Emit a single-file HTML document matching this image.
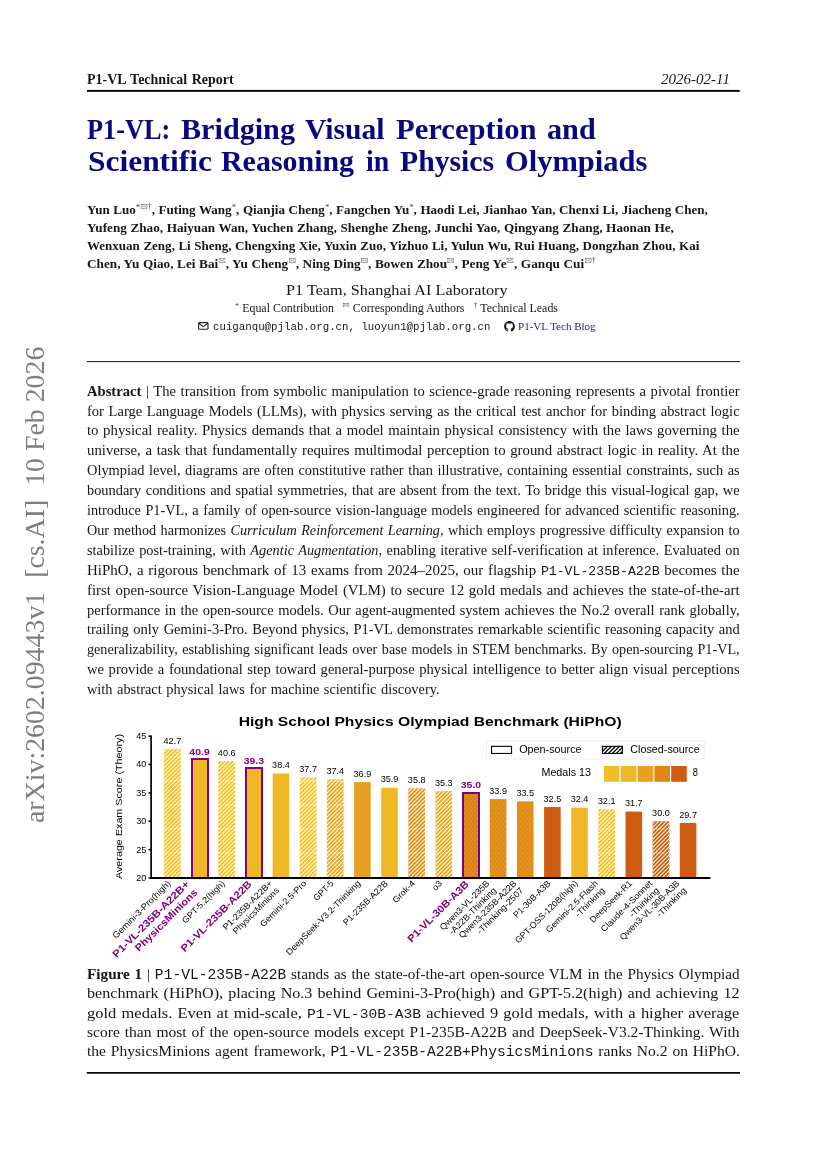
<!DOCTYPE html>
<html lang="en"><head><meta charset="utf-8"><title>P1-VL Technical Report</title>
<style>
html,body{margin:0;padding:0;background:#fff;}
body{width:827px;height:1170px;position:relative;overflow:hidden;font-family:"Liberation Serif", serif;color:#151515;will-change:transform;}
.l{position:absolute;white-space:nowrap;margin:0;padding:0;}
.l>span{display:inline-block;transform-origin:0 50%;white-space:nowrap;}
.b{font-weight:700;} .i{font-style:italic;}
.m{font-family:"Liberation Mono", monospace;}
.tt{font-family:"Liberation Mono", monospace;font-size:12.3px;line-height:0;letter-spacing:0;}
.tc{font-size:13.6px;}
.sp{position:relative;line-height:0;font-weight:400;display:inline-block;color:#444;}
.ev{position:relative;display:inline-block;margin:0 0.3px;}
.hr{position:absolute;background:#111;}
.chart{position:absolute;left:0;top:0;overflow:visible;}
.ic{position:absolute;}
#side{position:absolute;left:0;top:0;width:0;height:0;}
#side span{position:absolute;left:49.4px;top:822.8px;transform-origin:0 0;transform:rotate(-90deg) translateY(-100%);
  white-space:pre;font-size:27.85px;line-height:1;color:#7f7f7f;display:inline-block;}
</style></head><body>
<div class="l b" style="left:87.0px;top:69.91px;font-size:13.9px;line-height:20px;"><span id="t0" style="transform:scaleX(1.0072);word-spacing:1.000px;">P1-VL Technical Report</span></div>
<div class="l i" style="left:661.2px;top:69.71px;font-size:13.9px;line-height:20px;"><span id="t1" style="transform:scaleX(1.0816);">2026-02-11</span></div>
<div class="l b" style="left:87.2px;top:113.50px;font-size:28.6px;line-height:32px;color:#07077f;"><span id="t2" style="transform:scaleX(0.9190);">P1-VL:</span></div>
<div class="l b" style="left:181.1px;top:113.50px;font-size:28.6px;line-height:32px;color:#07077f;"><span id="t3" style="transform:scaleX(1.0549);">Bridging</span></div>
<div class="l b" style="left:304.7px;top:113.50px;font-size:28.6px;line-height:32px;color:#07077f;"><span id="t4" style="transform:scaleX(1.0363);">Visual</span></div>
<div class="l b" style="left:395.8px;top:113.50px;font-size:28.6px;line-height:32px;color:#07077f;"><span id="t5" style="transform:scaleX(1.0709);">Perception</span></div>
<div class="l b" style="left:547.1px;top:113.50px;font-size:28.6px;line-height:32px;color:#07077f;"><span id="t6" style="transform:scaleX(1.0562);">and</span></div>
<div class="l b" style="left:87.6px;top:145.70px;font-size:28.6px;line-height:32px;color:#07077f;"><span id="t7" style="transform:scaleX(1.0996);">Scientific</span></div>
<div class="l b" style="left:221.4px;top:145.70px;font-size:28.6px;line-height:32px;color:#07077f;"><span id="t8" style="transform:scaleX(1.0471);">Reasoning</span></div>
<div class="l b" style="left:365.8px;top:145.70px;font-size:28.6px;line-height:32px;color:#07077f;"><span id="t9" style="transform:scaleX(0.9724);">in</span></div>
<div class="l b" style="left:400.4px;top:145.70px;font-size:28.6px;line-height:32px;color:#07077f;"><span id="t10" style="transform:scaleX(1.0380);">Physics</span></div>
<div class="l b" style="left:505.1px;top:145.70px;font-size:28.6px;line-height:32px;color:#07077f;"><span id="t11" style="transform:scaleX(1.0660);">Olympiads</span></div>
<div class="l b" style="left:86.8px;top:199.90px;font-size:13.4px;line-height:20px;"><span id="t12" style="transform:scaleX(0.9762);word-spacing:0.300px;">Yun Luo<span class="sp" style="top:-3.6px;font-size:9.0px">*</span><svg class="ev" style="top:-5.0px" width="6.9" height="4.97" viewBox="0 0 10 7.2"><rect x="0.5" y="0.5" width="9" height="6.2" fill="none" stroke="#666" stroke-width="0.80"/><path d="M0.5 0.5 L5 4 L9.5 0.5 M0.5 6.7 L3.6 3 M9.5 6.7 L6.4 3" fill="none" stroke="#666" stroke-width="0.70"/></svg><span class="sp" style="top:-4.6px;font-size:8.6px">†</span>, Futing Wang<span class="sp" style="top:-3.6px;font-size:9.0px">*</span>, Qianjia Cheng<span class="sp" style="top:-3.6px;font-size:9.0px">*</span>, Fangchen Yu<span class="sp" style="top:-3.6px;font-size:9.0px">*</span>, Haodi Lei, Jianhao Yan, Chenxi Li, Jiacheng Chen,</span></div>
<div class="l b" style="left:86.8px;top:217.81px;font-size:13.4px;line-height:20px;"><span id="t13" style="transform:scaleX(0.9855);word-spacing:0.300px;">Yufeng Zhao, Haiyuan Wan, Yuchen Zhang, Shenghe Zheng, Junchi Yao, Qingyang Zhang, Haonan He,</span></div>
<div class="l b" style="left:86.8px;top:235.71px;font-size:13.4px;line-height:20px;"><span id="t14" style="transform:scaleX(0.9728);word-spacing:0.300px;">Wenxuan Zeng, Li Sheng, Chengxing Xie, Yuxin Zuo, Yizhuo Li, Yulun Wu, Rui Huang, Dongzhan Zhou, Kai</span></div>
<div class="l b" style="left:86.8px;top:253.60px;font-size:13.4px;line-height:20px;"><span id="t15" style="transform:scaleX(0.9895);word-spacing:0.300px;">Chen, Yu Qiao, Lei Bai<svg class="ev" style="top:-5.0px" width="6.9" height="4.97" viewBox="0 0 10 7.2"><rect x="0.5" y="0.5" width="9" height="6.2" fill="none" stroke="#666" stroke-width="0.80"/><path d="M0.5 0.5 L5 4 L9.5 0.5 M0.5 6.7 L3.6 3 M9.5 6.7 L6.4 3" fill="none" stroke="#666" stroke-width="0.70"/></svg>, Yu Cheng<svg class="ev" style="top:-5.0px" width="6.9" height="4.97" viewBox="0 0 10 7.2"><rect x="0.5" y="0.5" width="9" height="6.2" fill="none" stroke="#666" stroke-width="0.80"/><path d="M0.5 0.5 L5 4 L9.5 0.5 M0.5 6.7 L3.6 3 M9.5 6.7 L6.4 3" fill="none" stroke="#666" stroke-width="0.70"/></svg>, Ning Ding<svg class="ev" style="top:-5.0px" width="6.9" height="4.97" viewBox="0 0 10 7.2"><rect x="0.5" y="0.5" width="9" height="6.2" fill="none" stroke="#666" stroke-width="0.80"/><path d="M0.5 0.5 L5 4 L9.5 0.5 M0.5 6.7 L3.6 3 M9.5 6.7 L6.4 3" fill="none" stroke="#666" stroke-width="0.70"/></svg>, Bowen Zhou<svg class="ev" style="top:-5.0px" width="6.9" height="4.97" viewBox="0 0 10 7.2"><rect x="0.5" y="0.5" width="9" height="6.2" fill="none" stroke="#666" stroke-width="0.80"/><path d="M0.5 0.5 L5 4 L9.5 0.5 M0.5 6.7 L3.6 3 M9.5 6.7 L6.4 3" fill="none" stroke="#666" stroke-width="0.70"/></svg>, Peng Ye<svg class="ev" style="top:-5.0px" width="6.9" height="4.97" viewBox="0 0 10 7.2"><rect x="0.5" y="0.5" width="9" height="6.2" fill="none" stroke="#666" stroke-width="0.80"/><path d="M0.5 0.5 L5 4 L9.5 0.5 M0.5 6.7 L3.6 3 M9.5 6.7 L6.4 3" fill="none" stroke="#666" stroke-width="0.70"/></svg>, Ganqu Cui<svg class="ev" style="top:-5.0px" width="6.9" height="4.97" viewBox="0 0 10 7.2"><rect x="0.5" y="0.5" width="9" height="6.2" fill="none" stroke="#666" stroke-width="0.80"/><path d="M0.5 0.5 L5 4 L9.5 0.5 M0.5 6.7 L3.6 3 M9.5 6.7 L6.4 3" fill="none" stroke="#666" stroke-width="0.70"/></svg><span class="sp" style="top:-4.6px;font-size:8.6px">†</span></span></div>
<div class="l " style="left:285.9px;top:279.70px;font-size:15.4px;line-height:20px;"><span id="t16" style="transform:scaleX(1.0541);">P1 Team, Shanghai AI Laboratory</span></div>
<div class="l " style="left:235.1px;top:297.60px;font-size:11.5px;line-height:20px;"><span id="t17" style="transform:scaleX(1.0371);"><span class="sp" style="top:-3.0px;font-size:8.0px">*</span> Equal Contribution&nbsp;&nbsp; <svg class="ev" style="top:-4.2px" width="6.2" height="4.46" viewBox="0 0 10 7.2"><rect x="0.5" y="0.5" width="9" height="6.2" fill="none" stroke="#555" stroke-width="0.80"/><path d="M0.5 0.5 L5 4 L9.5 0.5 M0.5 6.7 L3.6 3 M9.5 6.7 L6.4 3" fill="none" stroke="#555" stroke-width="0.70"/></svg> Corresponding Authors&nbsp;&nbsp; <span class="sp" style="top:-3.6px;font-size:8.0px">†</span> Technical Leads</span></div>
<div class="l m" style="left:212.5px;top:316.51px;font-size:10.75px;line-height:20px;"><span id="t18" style="transform:scaleX(1.0003);">cuiganqu@pjlab.org.cn, luoyun1@pjlab.org.cn</span></div>
<div class="l " style="left:518.0px;top:315.51px;font-size:10.9px;line-height:20px;color:#1a1a9a;"><span id="t19" style="transform:scaleX(1.0119);">P1-VL Tech Blog</span></div>
<div class="l " style="left:86.9px;top:381.60px;font-size:13.9px;line-height:20px;"><span id="t20" style="transform:scaleX(1.0522);word-spacing:0.900px;"><b>Abstract</b> | The transition from symbolic manipulation to science-grade reasoning represents a pivotal frontier</span></div>
<div class="l " style="left:86.9px;top:401.51px;font-size:13.9px;line-height:20px;"><span id="t21" style="transform:scaleX(1.0471);word-spacing:0.900px;">for Large Language Models (LLMs), with physics serving as the critical test anchor for binding abstract logic</span></div>
<div class="l " style="left:86.9px;top:421.41px;font-size:13.9px;line-height:20px;"><span id="t22" style="transform:scaleX(1.0622);word-spacing:0.900px;">to physical reality. Physics demands that a model maintain physical consistency with the laws governing the</span></div>
<div class="l " style="left:86.9px;top:441.30px;font-size:13.9px;line-height:20px;"><span id="t23" style="transform:scaleX(1.0642);word-spacing:0.900px;">universe, a task that fundamentally requires multimodal perception to ground abstract logic in reality. At the</span></div>
<div class="l " style="left:86.9px;top:461.21px;font-size:13.9px;line-height:20px;"><span id="t24" style="transform:scaleX(1.0352);word-spacing:0.900px;">Olympiad level, diagrams are often constitutive rather than illustrative, containing essential constraints, such as</span></div>
<div class="l " style="left:86.9px;top:481.10px;font-size:13.9px;line-height:20px;"><span id="t25" style="transform:scaleX(1.0346);word-spacing:0.900px;">boundary conditions and spatial symmetries, that are absent from the text. To bridge this visual-logical gap, we</span></div>
<div class="l " style="left:86.9px;top:501.01px;font-size:13.9px;line-height:20px;"><span id="t26" style="transform:scaleX(1.0279);word-spacing:0.900px;">introduce P1-VL, a family of open-source vision-language models engineered for advanced scientific reasoning.</span></div>
<div class="l " style="left:86.9px;top:520.91px;font-size:13.9px;line-height:20px;"><span id="t27" style="transform:scaleX(1.0217);word-spacing:0.900px;">Our method harmonizes <i>Curriculum Reinforcement Learning</i>, which employs progressive difficulty expansion to</span></div>
<div class="l " style="left:86.9px;top:540.80px;font-size:13.9px;line-height:20px;"><span id="t28" style="transform:scaleX(1.0298);word-spacing:0.900px;">stabilize post-training, with <i>Agentic Augmentation</i>, enabling iterative self-verification at inference. Evaluated on</span></div>
<div class="l " style="left:86.9px;top:560.71px;font-size:13.9px;line-height:20px;"><span id="t29" style="transform:scaleX(1.0767);word-spacing:0.900px;">HiPhO, a rigorous benchmark of 13 exams from 2024–2025, our flagship <span class="tt" style="font-size:12.26px">P1-VL-235B-A22B</span> becomes the</span></div>
<div class="l " style="left:86.9px;top:580.60px;font-size:13.9px;line-height:20px;"><span id="t30" style="transform:scaleX(1.0691);word-spacing:0.900px;">first open-source Vision-Language Model (VLM) to secure 12 gold medals and achieves the state-of-the-art</span></div>
<div class="l " style="left:86.9px;top:600.51px;font-size:13.9px;line-height:20px;"><span id="t31" style="transform:scaleX(1.0431);word-spacing:0.900px;">performance in the open-source models. Our agent-augmented system achieves the No.2 overall rank globally,</span></div>
<div class="l " style="left:86.9px;top:620.41px;font-size:13.9px;line-height:20px;"><span id="t32" style="transform:scaleX(1.0422);word-spacing:0.900px;">trailing only Gemini-3-Pro. Beyond physics, P1-VL demonstrates remarkable scientific reasoning capacity and</span></div>
<div class="l " style="left:86.9px;top:640.30px;font-size:13.9px;line-height:20px;"><span id="t33" style="transform:scaleX(1.0199);word-spacing:0.900px;">generalizability, establishing significant leads over base models in STEM benchmarks. By open-sourcing P1-VL,</span></div>
<div class="l " style="left:86.9px;top:660.21px;font-size:13.9px;line-height:20px;"><span id="t34" style="transform:scaleX(1.0513);word-spacing:0.900px;">we provide a foundational step toward general-purpose physical intelligence to better align visual perceptions</span></div>
<div class="l " style="left:86.9px;top:680.10px;font-size:13.9px;line-height:20px;"><span id="t35" style="transform:scaleX(1.0338);word-spacing:0.900px;">with abstract physical laws for machine scientific discovery.</span></div>
<div class="l " style="left:86.9px;top:964.31px;font-size:15.4px;line-height:20px;"><span id="t36" style="transform:scaleX(0.9887);word-spacing:1.000px;"><b>Figure 1</b> | <span class="tt" style="font-size:14.78px">P1-VL-235B-A22B</span> stands as the state-of-the-art open-source VLM in the Physics Olympiad</span></div>
<div class="l " style="left:86.9px;top:983.41px;font-size:15.4px;line-height:20px;"><span id="t37" style="transform:scaleX(1.0464);word-spacing:1.000px;">benchmark (HiPhO), placing No.3 behind Gemini-3-Pro(high) and GPT-5.2(high) and achieving 12</span></div>
<div class="l " style="left:86.9px;top:1002.51px;font-size:15.4px;line-height:20px;"><span id="t38" style="transform:scaleX(1.0712);word-spacing:1.000px;">gold medals. Even at mid-scale, <span class="tt" style="font-size:13.64px">P1-VL-30B-A3B</span> achieved 9 gold medals, with a higher average</span></div>
<div class="l " style="left:86.9px;top:1021.61px;font-size:15.4px;line-height:20px;"><span id="t39" style="transform:scaleX(1.0107);word-spacing:1.000px;">score than most of the open-source models except P1-235B-A22B and DeepSeek-V3.2-Thinking. With</span></div>
<div class="l " style="left:86.9px;top:1040.70px;font-size:15.4px;line-height:20px;"><span id="t40" style="transform:scaleX(1.0094);word-spacing:1.000px;">the PhysicsMinions agent framework, <span class="tt" style="font-size:14.48px">P1-VL-235B-A22B+PhysicsMinions</span> ranks No.2 on HiPhO.</span></div>
<svg class="ic" style="left:198px;top:322.3px" width="10.6" height="7.9" viewBox="0 0 10.6 7.9"><rect x="0.6" y="0.6" width="9.4" height="6.7" rx="0.9" fill="none" stroke="#222" stroke-width="1.1"/><path d="M0.8 1.2 L5.3 4.6 L9.8 1.2" fill="none" stroke="#222" stroke-width="1.1"/></svg>
<svg class="ic" style="left:504.4px;top:320.8px" width="11" height="10.8" viewBox="0 0 16 16"><path fill="#1b1b1b" d="M8 0C3.58 0 0 3.58 0 8c0 3.54 2.29 6.53 5.47 7.59.4.07.55-.17.55-.38 0-.19-.01-.82-.01-1.49-2.01.37-2.53-.49-2.69-.94-.09-.23-.48-.94-.82-1.13-.28-.15-.68-.52-.01-.53.63-.01 1.08.58 1.23.82.72 1.21 1.87.87 2.33.66.07-.52.28-.87.51-1.07-1.78-.2-3.64-.89-3.64-3.95 0-.87.31-1.59.82-2.15-.08-.2-.36-1.02.08-2.12 0 0 .67-.21 2.2.82.64-.18 1.32-.27 2-.27s1.36.09 2 .27c1.53-1.04 2.2-.82 2.2-.82.44 1.1.16 1.92.08 2.12.51.56.82 1.27.82 2.15 0 3.07-1.87 3.75-3.65 3.95.29.25.54.73.54 1.48 0 1.07-.01 1.93-.01 2.2 0 .21.15.46.55.38A8.01 8.01 0 0 0 16 8c0-4.42-3.58-8-8-8z"/></svg>
<div id="side"><span id="sidetxt">arXiv:2602.09443v1  [cs.AI]  10 Feb 2026</span></div>
<svg class="chart" width="827" height="1170" viewBox="0 0 827 1170">
<defs>
<pattern id="hw" width="4.0" height="4.0" patternUnits="userSpaceOnUse"><path d="M-1 5.0 L5.0 -1 M-1 1 L1 -1 M3.0 5.0 L5.0 3.0" stroke="#fff" stroke-width="1.1" fill="none"/></pattern>
<pattern id="d2" width="3" height="4" patternUnits="userSpaceOnUse"><circle cx="0.75" cy="1" r="0.55" fill="#DA8C1E" fill-opacity="0.85"/><circle cx="2.25" cy="3" r="0.55" fill="#DA8C1E" fill-opacity="0.85"/></pattern>
<pattern id="d3" width="3" height="4" patternUnits="userSpaceOnUse"><circle cx="0.75" cy="1" r="0.55" fill="#D87A18" fill-opacity="0.9"/><circle cx="2.25" cy="3" r="0.55" fill="#D87A18" fill-opacity="0.9"/></pattern>
<pattern id="d4" width="4" height="5" patternUnits="userSpaceOnUse"><circle cx="1" cy="1.2" r="0.5" fill="#F4BC3A" fill-opacity="0.95"/><circle cx="3" cy="3.7" r="0.5" fill="#F4BC3A" fill-opacity="0.95"/></pattern>
<pattern id="d4r" width="4" height="5" patternUnits="userSpaceOnUse"><circle cx="1" cy="1.2" r="0.5" fill="#CC4C18" fill-opacity="0.95"/><circle cx="3" cy="3.7" r="0.5" fill="#CC4C18" fill-opacity="0.95"/></pattern>
<pattern id="d4s" width="3" height="3" patternUnits="userSpaceOnUse"><circle cx="0.75" cy="0.75" r="0.5" fill="#D46A14" fill-opacity="0.9"/><circle cx="2.25" cy="2.25" r="0.5" fill="#D46A14" fill-opacity="0.9"/></pattern>
<pattern id="d3s" width="2" height="2" patternUnits="userSpaceOnUse"><circle cx="0.5" cy="0.5" r="0.45" fill="#E0861C" fill-opacity="0.7"/><circle cx="1.5" cy="1.5" r="0.45" fill="#E0861C" fill-opacity="0.7"/></pattern>
</defs>
<rect x="87.0" y="89.9" width="652.8" height="1.95" fill="#0a0a0a"/>
<rect x="86.8" y="361.1" width="653.2" height="1.0" fill="#111"/>
<rect x="86.8" y="1072.0" width="653.2" height="1.75" fill="#0a0a0a"/>
<text x="430.2" y="725.7" text-anchor="middle" font-family='"Liberation Sans", sans-serif' font-weight="700" font-size="12.6" textLength="383" lengthAdjust="spacingAndGlyphs" fill="#000">High School Physics Olympiad Benchmark (HiPhO)</text>
<text transform="translate(122.0,806.5) rotate(-90)" text-anchor="middle" font-family='"Liberation Sans", sans-serif' font-size="9.6" textLength="145" lengthAdjust="spacingAndGlyphs" fill="#000">Average Exam Score (Theory)</text>
<line x1="148.50" y1="736.10" x2="151.10" y2="736.10" stroke="#000" stroke-width="1.5"/>
<text x="146.4" y="739.00" text-anchor="end" font-family='"Liberation Sans", sans-serif' font-size="8.3" textLength="10.05" lengthAdjust="spacingAndGlyphs" fill="#000">45</text>
<line x1="148.50" y1="764.48" x2="151.10" y2="764.48" stroke="#000" stroke-width="1.5"/>
<text x="146.4" y="767.38" text-anchor="end" font-family='"Liberation Sans", sans-serif' font-size="8.3" textLength="10.05" lengthAdjust="spacingAndGlyphs" fill="#000">40</text>
<line x1="148.50" y1="792.86" x2="151.10" y2="792.86" stroke="#000" stroke-width="1.5"/>
<text x="146.4" y="795.76" text-anchor="end" font-family='"Liberation Sans", sans-serif' font-size="8.3" textLength="10.05" lengthAdjust="spacingAndGlyphs" fill="#000">35</text>
<line x1="148.50" y1="821.24" x2="151.10" y2="821.24" stroke="#000" stroke-width="1.5"/>
<text x="146.4" y="824.14" text-anchor="end" font-family='"Liberation Sans", sans-serif' font-size="8.3" textLength="10.05" lengthAdjust="spacingAndGlyphs" fill="#000">30</text>
<line x1="148.50" y1="849.62" x2="151.10" y2="849.62" stroke="#000" stroke-width="1.5"/>
<text x="146.4" y="852.52" text-anchor="end" font-family='"Liberation Sans", sans-serif' font-size="8.3" textLength="10.05" lengthAdjust="spacingAndGlyphs" fill="#000">25</text>
<line x1="148.50" y1="878.00" x2="151.10" y2="878.00" stroke="#000" stroke-width="1.5"/>
<text x="146.4" y="880.90" text-anchor="end" font-family='"Liberation Sans", sans-serif' font-size="8.3" textLength="10.05" lengthAdjust="spacingAndGlyphs" fill="#000">20</text>
<rect x="164.10" y="749.15" width="16.6" height="128.85" fill="#F0BE28"/>
<text x="172.40" y="743.85" text-anchor="middle" font-family='"Liberation Sans", sans-serif' font-size="8.3" textLength="17.70" lengthAdjust="spacingAndGlyphs" fill="#000">42.7</text>
<text transform="translate(166.78,879.60) rotate(-45)" x="0" y="6.23" text-anchor="end" font-family='"Liberation Sans", sans-serif' font-size="8.7" fill="#000" textLength="77.88" lengthAdjust="spacingAndGlyphs">Gemini-3-Pro(high)</text>
<rect x="191.24" y="759.37" width="16.6" height="118.63" fill="#F1BE28"/>
<rect x="191.24" y="759.37" width="16.6" height="118.63" fill="url(#d2)"/>
<rect x="192" y="759" width="16" height="119.10" fill="none" stroke="#800080" stroke-width="2"/>
<text x="199.54" y="754.77" text-anchor="middle" font-family='"Liberation Sans", sans-serif' font-weight="700" font-size="9.0" textLength="20.36" lengthAdjust="spacingAndGlyphs" fill="#800080">40.9</text>
<text transform="translate(184.66,879.60) rotate(-45)" x="0" y="7.37" text-anchor="end" font-family='"Liberation Sans", sans-serif' font-size="10.1" font-weight="700" fill="#800080" textLength="103.79" lengthAdjust="spacingAndGlyphs">P1-VL-235B-A22B+</text>
<text transform="translate(184.66,879.60) rotate(-45)" x="0" y="19.01" text-anchor="end" font-family='"Liberation Sans", sans-serif' font-size="10.1" font-weight="700" fill="#800080" textLength="83.51" lengthAdjust="spacingAndGlyphs">PhysicsMinions</text>
<rect x="218.38" y="761.07" width="16.6" height="116.93" fill="#F1BE28"/>
<text x="226.68" y="755.77" text-anchor="middle" font-family='"Liberation Sans", sans-serif' font-size="8.3" textLength="17.70" lengthAdjust="spacingAndGlyphs" fill="#000">40.6</text>
<text transform="translate(221.06,879.60) rotate(-45)" x="0" y="6.23" text-anchor="end" font-family='"Liberation Sans", sans-serif' font-size="8.7" fill="#000" textLength="56.58" lengthAdjust="spacingAndGlyphs">GPT-5.2(high)</text>
<rect x="245.53" y="768.45" width="16.6" height="109.55" fill="#F1BE28"/>
<rect x="245.53" y="768.45" width="16.6" height="109.55" fill="url(#d2)"/>
<rect x="246" y="768" width="16" height="110.10" fill="none" stroke="#800080" stroke-width="2"/>
<text x="253.83" y="763.85" text-anchor="middle" font-family='"Liberation Sans", sans-serif' font-weight="700" font-size="9.0" textLength="20.36" lengthAdjust="spacingAndGlyphs" fill="#800080">39.3</text>
<text transform="translate(247.17,879.60) rotate(-45)" x="0" y="7.37" text-anchor="end" font-family='"Liberation Sans", sans-serif' font-size="10.1" font-weight="700" fill="#800080" textLength="95.66" lengthAdjust="spacingAndGlyphs">P1-VL-235B-A22B</text>
<rect x="272.67" y="773.56" width="16.6" height="104.44" fill="#F1BE28"/>
<rect x="272.67" y="773.56" width="16.6" height="104.44" fill="url(#d2)"/>
<text x="280.97" y="768.26" text-anchor="middle" font-family='"Liberation Sans", sans-serif' font-size="8.3" textLength="17.70" lengthAdjust="spacingAndGlyphs" fill="#000">38.4</text>
<text transform="translate(268.39,879.60) rotate(-45)" x="0" y="6.23" text-anchor="end" font-family='"Liberation Sans", sans-serif' font-size="8.7" fill="#000" textLength="65.90" lengthAdjust="spacingAndGlyphs">P1-235B-A22B+</text>
<text transform="translate(268.39,879.60) rotate(-45)" x="0" y="16.07" text-anchor="end" font-family='"Liberation Sans", sans-serif' font-size="8.7" fill="#000" textLength="61.64" lengthAdjust="spacingAndGlyphs">PhysicsMinions</text>
<rect x="299.81" y="777.53" width="16.6" height="100.47" fill="#F1BE28"/>
<text x="308.11" y="772.23" text-anchor="middle" font-family='"Liberation Sans", sans-serif' font-size="8.3" textLength="17.70" lengthAdjust="spacingAndGlyphs" fill="#000">37.7</text>
<text transform="translate(302.49,879.60) rotate(-45)" x="0" y="6.23" text-anchor="end" font-family='"Liberation Sans", sans-serif' font-size="8.7" fill="#000" textLength="61.43" lengthAdjust="spacingAndGlyphs">Gemini-2.5-Pro</text>
<rect x="326.95" y="779.24" width="16.6" height="98.76" fill="#E8A623"/>
<text x="335.25" y="773.94" text-anchor="middle" font-family='"Liberation Sans", sans-serif' font-size="8.3" textLength="17.70" lengthAdjust="spacingAndGlyphs" fill="#000">37.4</text>
<text transform="translate(329.63,879.60) rotate(-45)" x="0" y="6.23" text-anchor="end" font-family='"Liberation Sans", sans-serif' font-size="8.7" fill="#000" textLength="24.48" lengthAdjust="spacingAndGlyphs">GPT-5</text>
<rect x="354.09" y="782.08" width="16.6" height="95.92" fill="#E8A623"/>
<rect x="354.09" y="782.08" width="16.6" height="95.92" fill="url(#d3)"/>
<text x="362.39" y="776.78" text-anchor="middle" font-family='"Liberation Sans", sans-serif' font-size="8.3" textLength="17.70" lengthAdjust="spacingAndGlyphs" fill="#000">36.9</text>
<text transform="translate(356.77,879.60) rotate(-45)" x="0" y="6.23" text-anchor="end" font-family='"Liberation Sans", sans-serif' font-size="8.7" fill="#000" textLength="101.33" lengthAdjust="spacingAndGlyphs">DeepSeek-V3.2-Thinking</text>
<rect x="381.24" y="787.75" width="16.6" height="90.25" fill="#F1BE28"/>
<rect x="381.24" y="787.75" width="16.6" height="90.25" fill="url(#d2)"/>
<text x="389.54" y="782.45" text-anchor="middle" font-family='"Liberation Sans", sans-serif' font-size="8.3" textLength="17.70" lengthAdjust="spacingAndGlyphs" fill="#000">35.9</text>
<text transform="translate(383.91,879.60) rotate(-45)" x="0" y="6.23" text-anchor="end" font-family='"Liberation Sans", sans-serif' font-size="8.7" fill="#000" textLength="59.03" lengthAdjust="spacingAndGlyphs">P1-235B-A22B</text>
<rect x="408.38" y="788.32" width="16.6" height="89.68" fill="#E08C18"/>
<text x="416.68" y="783.02" text-anchor="middle" font-family='"Liberation Sans", sans-serif' font-size="8.3" textLength="17.70" lengthAdjust="spacingAndGlyphs" fill="#000">35.8</text>
<text transform="translate(411.05,879.60) rotate(-45)" x="0" y="6.23" text-anchor="end" font-family='"Liberation Sans", sans-serif' font-size="8.7" fill="#000" textLength="27.67" lengthAdjust="spacingAndGlyphs">Grok-4</text>
<rect x="435.52" y="791.16" width="16.6" height="86.84" fill="#E8A623"/>
<text x="443.82" y="785.86" text-anchor="middle" font-family='"Liberation Sans", sans-serif' font-size="8.3" textLength="17.70" lengthAdjust="spacingAndGlyphs" fill="#000">35.3</text>
<text transform="translate(438.20,879.60) rotate(-45)" x="0" y="6.23" text-anchor="end" font-family='"Liberation Sans", sans-serif' font-size="8.7" fill="#000" textLength="10.23" lengthAdjust="spacingAndGlyphs">o3</text>
<rect x="462.66" y="792.86" width="16.6" height="85.14" fill="#E08C18"/>
<rect x="462.66" y="792.86" width="16.6" height="85.14" fill="url(#d4r)"/>
<rect x="463" y="793" width="16" height="85.10" fill="none" stroke="#800080" stroke-width="2"/>
<text x="470.96" y="788.26" text-anchor="middle" font-family='"Liberation Sans", sans-serif' font-weight="700" font-size="9.0" textLength="20.36" lengthAdjust="spacingAndGlyphs" fill="#800080">35.0</text>
<text transform="translate(464.31,879.60) rotate(-45)" x="0" y="7.37" text-anchor="end" font-family='"Liberation Sans", sans-serif' font-size="10.1" font-weight="700" fill="#800080" textLength="82.17" lengthAdjust="spacingAndGlyphs">P1-VL-30B-A3B</text>
<rect x="489.80" y="799.10" width="16.6" height="78.90" fill="#E08C18"/>
<rect x="489.80" y="799.10" width="16.6" height="78.90" fill="url(#d4)"/>
<text x="498.10" y="793.80" text-anchor="middle" font-family='"Liberation Sans", sans-serif' font-size="8.3" textLength="17.70" lengthAdjust="spacingAndGlyphs" fill="#000">33.9</text>
<text transform="translate(485.52,879.60) rotate(-45)" x="0" y="6.23" text-anchor="end" font-family='"Liberation Sans", sans-serif' font-size="8.7" fill="#000" textLength="65.99" lengthAdjust="spacingAndGlyphs">Qwen3-VL-235B</text>
<text transform="translate(485.52,879.60) rotate(-45)" x="0" y="16.07" text-anchor="end" font-family='"Liberation Sans", sans-serif' font-size="8.7" fill="#000" textLength="62.70" lengthAdjust="spacingAndGlyphs">-A22B-Thinking</text>
<rect x="516.95" y="801.37" width="16.6" height="76.63" fill="#E08C18"/>
<rect x="516.95" y="801.37" width="16.6" height="76.63" fill="url(#d4)"/>
<text x="525.25" y="796.07" text-anchor="middle" font-family='"Liberation Sans", sans-serif' font-size="8.3" textLength="17.70" lengthAdjust="spacingAndGlyphs" fill="#000">33.5</text>
<text transform="translate(512.66,879.60) rotate(-45)" x="0" y="6.23" text-anchor="end" font-family='"Liberation Sans", sans-serif' font-size="8.7" fill="#000" textLength="77.48" lengthAdjust="spacingAndGlyphs">Qwen3-235B-A22B</text>
<text transform="translate(512.66,879.60) rotate(-45)" x="0" y="16.07" text-anchor="end" font-family='"Liberation Sans", sans-serif' font-size="8.7" fill="#000" textLength="61.90" lengthAdjust="spacingAndGlyphs">-Thinking-2507</text>
<rect x="544.09" y="807.05" width="16.6" height="70.95" fill="#CE5C12"/>
<text x="552.39" y="801.75" text-anchor="middle" font-family='"Liberation Sans", sans-serif' font-size="8.3" textLength="17.70" lengthAdjust="spacingAndGlyphs" fill="#000">32.5</text>
<text transform="translate(546.76,879.60) rotate(-45)" x="0" y="6.23" text-anchor="end" font-family='"Liberation Sans", sans-serif' font-size="8.7" fill="#000" textLength="48.59" lengthAdjust="spacingAndGlyphs">P1-30B-A3B</text>
<rect x="571.23" y="807.62" width="16.6" height="70.38" fill="#F1BE28"/>
<rect x="571.23" y="807.62" width="16.6" height="70.38" fill="url(#d2)"/>
<text x="579.53" y="802.32" text-anchor="middle" font-family='"Liberation Sans", sans-serif' font-size="8.3" textLength="17.70" lengthAdjust="spacingAndGlyphs" fill="#000">32.4</text>
<text transform="translate(573.91,879.60) rotate(-45)" x="0" y="6.23" text-anchor="end" font-family='"Liberation Sans", sans-serif' font-size="8.7" fill="#000" textLength="84.64" lengthAdjust="spacingAndGlyphs">GPT-OSS-120B(high)</text>
<rect x="598.37" y="809.32" width="16.6" height="68.68" fill="#F1BE28"/>
<text x="606.67" y="804.02" text-anchor="middle" font-family='"Liberation Sans", sans-serif' font-size="8.3" textLength="17.70" lengthAdjust="spacingAndGlyphs" fill="#000">32.1</text>
<text transform="translate(594.09,879.60) rotate(-45)" x="0" y="6.23" text-anchor="end" font-family='"Liberation Sans", sans-serif' font-size="8.7" fill="#000" textLength="69.59" lengthAdjust="spacingAndGlyphs">Gemini-2.5-Flash</text>
<text transform="translate(594.09,879.60) rotate(-45)" x="0" y="16.07" text-anchor="end" font-family='"Liberation Sans", sans-serif' font-size="8.7" fill="#000" textLength="38.07" lengthAdjust="spacingAndGlyphs">-Thinking</text>
<rect x="625.51" y="811.59" width="16.6" height="66.41" fill="#CE5C12"/>
<text x="633.81" y="806.29" text-anchor="middle" font-family='"Liberation Sans", sans-serif' font-size="8.3" textLength="17.70" lengthAdjust="spacingAndGlyphs" fill="#000">31.7</text>
<text transform="translate(628.19,879.60) rotate(-45)" x="0" y="6.23" text-anchor="end" font-family='"Liberation Sans", sans-serif' font-size="8.7" fill="#000" textLength="55.53" lengthAdjust="spacingAndGlyphs">DeepSeek-R1</text>
<rect x="652.66" y="821.24" width="16.6" height="56.76" fill="#CE5C12"/>
<text x="660.96" y="815.94" text-anchor="middle" font-family='"Liberation Sans", sans-serif' font-size="8.3" textLength="17.70" lengthAdjust="spacingAndGlyphs" fill="#000">30.0</text>
<text transform="translate(648.37,879.60) rotate(-45)" x="0" y="6.23" text-anchor="end" font-family='"Liberation Sans", sans-serif' font-size="8.7" fill="#000" textLength="68.49" lengthAdjust="spacingAndGlyphs">Claude-4-Sonnet</text>
<text transform="translate(648.37,879.60) rotate(-45)" x="0" y="16.07" text-anchor="end" font-family='"Liberation Sans", sans-serif' font-size="8.7" fill="#000" textLength="38.07" lengthAdjust="spacingAndGlyphs">-Thinking</text>
<rect x="679.80" y="822.94" width="16.6" height="55.06" fill="#CE5C12"/>
<text x="688.10" y="817.64" text-anchor="middle" font-family='"Liberation Sans", sans-serif' font-size="8.3" textLength="17.70" lengthAdjust="spacingAndGlyphs" fill="#000">29.7</text>
<text transform="translate(675.52,879.60) rotate(-45)" x="0" y="6.23" text-anchor="end" font-family='"Liberation Sans", sans-serif' font-size="8.7" fill="#000" textLength="80.19" lengthAdjust="spacingAndGlyphs">Qwen3-VL-30B-A3B</text>
<text transform="translate(675.52,879.60) rotate(-45)" x="0" y="16.07" text-anchor="end" font-family='"Liberation Sans", sans-serif' font-size="8.7" fill="#000" textLength="38.07" lengthAdjust="spacingAndGlyphs">-Thinking</text>
<clipPath id="hc"><rect x="164.10" y="749.15" width="16.6" height="128.85"/><rect x="218.38" y="761.07" width="16.6" height="116.93"/><rect x="299.81" y="777.53" width="16.6" height="100.47"/><rect x="326.95" y="779.24" width="16.6" height="98.76"/><rect x="408.38" y="788.32" width="16.6" height="89.68"/><rect x="435.52" y="791.16" width="16.6" height="86.84"/><rect x="598.37" y="809.32" width="16.6" height="68.68"/><rect x="652.66" y="821.24" width="16.6" height="56.76"/></clipPath>
<path clip-path="url(#hc)" d="M24.00 880L160.00 744M28.00 880L164.00 744M32.00 880L168.00 744M36.00 880L172.00 744M40.00 880L176.00 744M44.00 880L180.00 744M48.00 880L184.00 744M52.00 880L188.00 744M56.00 880L192.00 744M60.00 880L196.00 744M64.00 880L200.00 744M68.00 880L204.00 744M72.00 880L208.00 744M76.00 880L212.00 744M80.00 880L216.00 744M84.00 880L220.00 744M88.00 880L224.00 744M92.00 880L228.00 744M96.00 880L232.00 744M100.00 880L236.00 744M104.00 880L240.00 744M108.00 880L244.00 744M112.00 880L248.00 744M116.00 880L252.00 744M120.00 880L256.00 744M124.00 880L260.00 744M128.00 880L264.00 744M132.00 880L268.00 744M136.00 880L272.00 744M140.00 880L276.00 744M144.00 880L280.00 744M148.00 880L284.00 744M152.00 880L288.00 744M156.00 880L292.00 744M160.00 880L296.00 744M164.00 880L300.00 744M168.00 880L304.00 744M172.00 880L308.00 744M176.00 880L312.00 744M180.00 880L316.00 744M184.00 880L320.00 744M188.00 880L324.00 744M192.00 880L328.00 744M196.00 880L332.00 744M200.00 880L336.00 744M204.00 880L340.00 744M208.00 880L344.00 744M212.00 880L348.00 744M216.00 880L352.00 744M220.00 880L356.00 744M224.00 880L360.00 744M228.00 880L364.00 744M232.00 880L368.00 744M236.00 880L372.00 744M240.00 880L376.00 744M244.00 880L380.00 744M248.00 880L384.00 744M252.00 880L388.00 744M256.00 880L392.00 744M260.00 880L396.00 744M264.00 880L400.00 744M268.00 880L404.00 744M272.00 880L408.00 744M276.00 880L412.00 744M280.00 880L416.00 744M284.00 880L420.00 744M288.00 880L424.00 744M292.00 880L428.00 744M296.00 880L432.00 744M300.00 880L436.00 744M304.00 880L440.00 744M308.00 880L444.00 744M312.00 880L448.00 744M316.00 880L452.00 744M320.00 880L456.00 744M324.00 880L460.00 744M328.00 880L464.00 744M332.00 880L468.00 744M336.00 880L472.00 744M340.00 880L476.00 744M344.00 880L480.00 744M348.00 880L484.00 744M352.00 880L488.00 744M356.00 880L492.00 744M360.00 880L496.00 744M364.00 880L500.00 744M368.00 880L504.00 744M372.00 880L508.00 744M376.00 880L512.00 744M380.00 880L516.00 744M384.00 880L520.00 744M388.00 880L524.00 744M392.00 880L528.00 744M396.00 880L532.00 744M400.00 880L536.00 744M404.00 880L540.00 744M408.00 880L544.00 744M412.00 880L548.00 744M416.00 880L552.00 744M420.00 880L556.00 744M424.00 880L560.00 744M428.00 880L564.00 744M432.00 880L568.00 744M436.00 880L572.00 744M440.00 880L576.00 744M444.00 880L580.00 744M448.00 880L584.00 744M452.00 880L588.00 744M456.00 880L592.00 744M460.00 880L596.00 744M464.00 880L600.00 744M468.00 880L604.00 744M472.00 880L608.00 744M476.00 880L612.00 744M480.00 880L616.00 744M484.00 880L620.00 744M488.00 880L624.00 744M492.00 880L628.00 744M496.00 880L632.00 744M500.00 880L636.00 744M504.00 880L640.00 744M508.00 880L644.00 744M512.00 880L648.00 744M516.00 880L652.00 744M520.00 880L656.00 744M524.00 880L660.00 744M528.00 880L664.00 744M532.00 880L668.00 744M536.00 880L672.00 744M540.00 880L676.00 744M544.00 880L680.00 744M548.00 880L684.00 744M552.00 880L688.00 744M556.00 880L692.00 744M560.00 880L696.00 744M564.00 880L700.00 744M568.00 880L704.00 744M572.00 880L708.00 744M576.00 880L712.00 744M580.00 880L716.00 744M584.00 880L720.00 744M588.00 880L724.00 744M592.00 880L728.00 744M596.00 880L732.00 744M600.00 880L736.00 744M604.00 880L740.00 744M608.00 880L744.00 744M612.00 880L748.00 744M616.00 880L752.00 744M620.00 880L756.00 744M624.00 880L760.00 744M628.00 880L764.00 744M632.00 880L768.00 744M636.00 880L772.00 744M640.00 880L776.00 744M644.00 880L780.00 744M648.00 880L784.00 744M652.00 880L788.00 744M656.00 880L792.00 744M660.00 880L796.00 744M664.00 880L800.00 744M668.00 880L804.00 744M672.00 880L808.00 744M676.00 880L812.00 744M680.00 880L816.00 744M684.00 880L820.00 744M688.00 880L824.00 744M692.00 880L828.00 744M696.00 880L832.00 744" stroke="#fff" stroke-width="1.1" fill="none"/>
<line x1="164.10" y1="757.0" x2="180.70" y2="757.0" stroke="#fff" stroke-width="0.7" stroke-dasharray="2.2 1" stroke-opacity="0.9"/>
<line x1="164.10" y1="781.0" x2="180.70" y2="781.0" stroke="#fff" stroke-width="0.7" stroke-dasharray="2.2 1" stroke-opacity="0.9"/>
<line x1="164.10" y1="805.0" x2="180.70" y2="805.0" stroke="#fff" stroke-width="0.7" stroke-dasharray="2.2 1" stroke-opacity="0.9"/>
<line x1="164.10" y1="829.0" x2="180.70" y2="829.0" stroke="#fff" stroke-width="0.7" stroke-dasharray="2.2 1" stroke-opacity="0.9"/>
<line x1="164.10" y1="853.0" x2="180.70" y2="853.0" stroke="#fff" stroke-width="0.7" stroke-dasharray="2.2 1" stroke-opacity="0.9"/>
<line x1="218.38" y1="781.0" x2="234.98" y2="781.0" stroke="#fff" stroke-width="0.7" stroke-dasharray="2.2 1" stroke-opacity="0.9"/>
<line x1="218.38" y1="805.0" x2="234.98" y2="805.0" stroke="#fff" stroke-width="0.7" stroke-dasharray="2.2 1" stroke-opacity="0.9"/>
<line x1="218.38" y1="829.0" x2="234.98" y2="829.0" stroke="#fff" stroke-width="0.7" stroke-dasharray="2.2 1" stroke-opacity="0.9"/>
<line x1="218.38" y1="853.0" x2="234.98" y2="853.0" stroke="#fff" stroke-width="0.7" stroke-dasharray="2.2 1" stroke-opacity="0.9"/>
<line x1="299.81" y1="781.0" x2="316.41" y2="781.0" stroke="#fff" stroke-width="0.7" stroke-dasharray="2.2 1" stroke-opacity="0.9"/>
<line x1="299.81" y1="805.0" x2="316.41" y2="805.0" stroke="#fff" stroke-width="0.7" stroke-dasharray="2.2 1" stroke-opacity="0.9"/>
<line x1="299.81" y1="829.0" x2="316.41" y2="829.0" stroke="#fff" stroke-width="0.7" stroke-dasharray="2.2 1" stroke-opacity="0.9"/>
<line x1="299.81" y1="853.0" x2="316.41" y2="853.0" stroke="#fff" stroke-width="0.7" stroke-dasharray="2.2 1" stroke-opacity="0.9"/>
<line x1="326.95" y1="781.0" x2="343.55" y2="781.0" stroke="#fff" stroke-width="0.7" stroke-dasharray="2.2 1" stroke-opacity="0.9"/>
<line x1="326.95" y1="805.0" x2="343.55" y2="805.0" stroke="#fff" stroke-width="0.7" stroke-dasharray="2.2 1" stroke-opacity="0.9"/>
<line x1="326.95" y1="829.0" x2="343.55" y2="829.0" stroke="#fff" stroke-width="0.7" stroke-dasharray="2.2 1" stroke-opacity="0.9"/>
<line x1="326.95" y1="853.0" x2="343.55" y2="853.0" stroke="#fff" stroke-width="0.7" stroke-dasharray="2.2 1" stroke-opacity="0.9"/>
<line x1="408.38" y1="805.0" x2="424.98" y2="805.0" stroke="#fff" stroke-width="0.7" stroke-dasharray="2.2 1" stroke-opacity="0.9"/>
<line x1="408.38" y1="829.0" x2="424.98" y2="829.0" stroke="#fff" stroke-width="0.7" stroke-dasharray="2.2 1" stroke-opacity="0.9"/>
<line x1="408.38" y1="853.0" x2="424.98" y2="853.0" stroke="#fff" stroke-width="0.7" stroke-dasharray="2.2 1" stroke-opacity="0.9"/>
<line x1="435.52" y1="805.0" x2="452.12" y2="805.0" stroke="#fff" stroke-width="0.7" stroke-dasharray="2.2 1" stroke-opacity="0.9"/>
<line x1="435.52" y1="829.0" x2="452.12" y2="829.0" stroke="#fff" stroke-width="0.7" stroke-dasharray="2.2 1" stroke-opacity="0.9"/>
<line x1="435.52" y1="853.0" x2="452.12" y2="853.0" stroke="#fff" stroke-width="0.7" stroke-dasharray="2.2 1" stroke-opacity="0.9"/>
<line x1="598.37" y1="829.0" x2="614.97" y2="829.0" stroke="#fff" stroke-width="0.7" stroke-dasharray="2.2 1" stroke-opacity="0.9"/>
<line x1="598.37" y1="853.0" x2="614.97" y2="853.0" stroke="#fff" stroke-width="0.7" stroke-dasharray="2.2 1" stroke-opacity="0.9"/>
<line x1="652.66" y1="829.0" x2="669.26" y2="829.0" stroke="#fff" stroke-width="0.7" stroke-dasharray="2.2 1" stroke-opacity="0.9"/>
<line x1="652.66" y1="853.0" x2="669.26" y2="853.0" stroke="#fff" stroke-width="0.7" stroke-dasharray="2.2 1" stroke-opacity="0.9"/>
<line x1="151.10" y1="735.60" x2="151.10" y2="878.90" stroke="#000" stroke-width="1.7"/>
<line x1="150.25" y1="877.95" x2="710.30" y2="877.95" stroke="#000" stroke-width="1.9"/>
<rect x="486.4" y="741" width="218.5" height="18" rx="2" ry="2" fill="#fff" stroke="#e9e9e9" stroke-width="0.8"/>
<rect x="491.55" y="746.35" width="20" height="7.1" fill="#fff" stroke="#000" stroke-width="1.1"/>
<text x="519.2" y="753.2" font-family='"Liberation Sans", sans-serif' font-size="10.2" textLength="62.4" lengthAdjust="spacingAndGlyphs" fill="#000">Open-source</text>
<clipPath id="lc"><rect x="602.45" y="746.35" width="20" height="7.1"/></clipPath>
<path clip-path="url(#lc)" d="M594.80 755L604.80 745M598.80 755L608.80 745M602.80 755L612.80 745M606.80 755L616.80 745M610.80 755L620.80 745M614.80 755L624.80 745M618.80 755L628.80 745" stroke="#000" stroke-width="1.3" fill="none"/>
<rect x="602.45" y="746.35" width="20" height="7.1" fill="none" stroke="#000" stroke-width="1.1"/>
<text x="630.3" y="753.2" font-family='"Liberation Sans", sans-serif' font-size="10.2" textLength="69.4" lengthAdjust="spacingAndGlyphs" fill="#000">Closed-source</text>
<text x="541.5" y="775.9" font-family='"Liberation Sans", sans-serif' font-size="10.2" textLength="49.4" lengthAdjust="spacingAndGlyphs" fill="#000">Medals 13</text>
<rect x="604.00" y="766" width="15.6" height="15.8" fill="#F0BE28"/>
<rect x="620.80" y="766" width="15.6" height="15.8" fill="#F1BE28"/>
<rect x="620.80" y="766" width="15.6" height="15.8" fill="url(#d2)"/>
<rect x="637.60" y="766" width="15.6" height="15.8" fill="#E8A623"/>
<rect x="637.60" y="766" width="15.6" height="15.8" fill="url(#d3s)"/>
<rect x="654.40" y="766" width="15.6" height="15.8" fill="#E08C18"/>
<rect x="654.40" y="766" width="15.6" height="15.8" fill="url(#d4s)"/>
<rect x="671.20" y="766" width="15.6" height="15.8" fill="#CE5C12"/>
<text x="692.7" y="775.9" font-family='"Liberation Sans", sans-serif' font-size="10.2" textLength="5.2" lengthAdjust="spacingAndGlyphs" fill="#000">8</text>
</svg>
</body></html>
